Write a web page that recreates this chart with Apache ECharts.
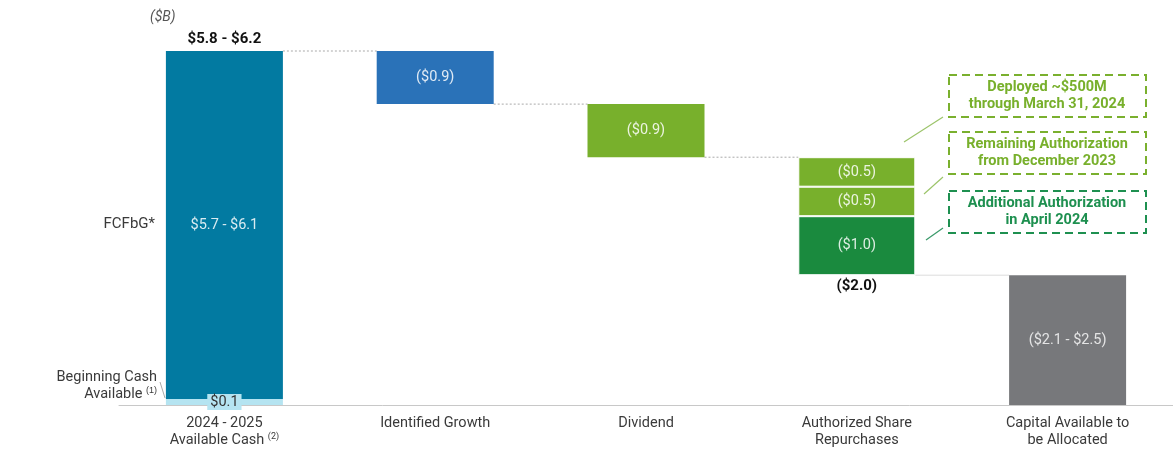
<!DOCTYPE html>
<html>
<head>
<meta charset="utf-8">
<script src="https://cdn.jsdelivr.net/npm/echarts@6/dist/echarts.min.js"></script>
<style>
  html, body { margin: 0; padding: 0; background: #fff; }
  #chart { width: 1173px; height: 454px; }
</style>
</head>
<body>
<div id="chart"></div>
<script>
// waterfall data ($B)
var categories = ['2024 - 2025\nAvailable Cash', 'Identified Growth', 'Dividend', 'Authorized Share\nRepurchases', 'Capital Available to\nbe Allocated'];
var baseValues = [0, 5.1, 4.2, 2.2, 0];
var beginningCash = [0.1, '-', '-', '-', '-'];
var fcfbg = [5.9, '-', '-', '-', '-'];
var growth = ['-', 0.9, '-', '-', '-'];
var dividend = ['-', '-', 0.9, '-', '-'];
var buybackAdditional = ['-', '-', '-', 1.0, '-'];
var buybackRemaining = ['-', '-', '-', 0.5, '-'];
var buybackDeployed = ['-', '-', '-', 0.5, '-'];
var capital = ['-', '-', '-', '-', 2.2];
var topMarker = [0, '-', '-', '-', '-'];
var connectorLevels = [6.0, 5.1, 4.2, 2.2];

var labelTexts = {
    total: '$5.8 - $6.2',
    cash: '$0.1',
    fcfbg: '$5.7 - $6.1',
    growth: '($0.9)',
    dividend: '($0.9)',
    additional: '($1.0)',
    remaining: '($0.5)',
    deployed: '($0.5)',
    buybackTotal: '($2.0)',
    capital: '($2.1 - $2.5)'
};

var BAR_W = 117;
var FONT = 'Roboto, "Liberation Sans", sans-serif';

var innerLabel = function(text, color){
    return {
        show: true,
        position: 'inside',
        formatter: text,
        color: color || 'rgba(255,255,255,0.85)',
        fontSize: 14.5,
        fontFamily: FONT
    };
};

var chart = echarts.init(document.getElementById('chart'));

var option = {
    backgroundColor: '#ffffff',
    animation: false,
    grid: { left: 119, width: 1056, top: 51, bottom: 49 },
    xAxis: {
        type: 'category',
        data: categories,
        axisTick: { show: false },
        axisLine: { lineStyle: { color: '#c8c8c8', width: 1 } },
        axisLabel: {
            margin: 10,
            interval: 0,
            color: '#3a3a3a',
            fontSize: 14.5,
            lineHeight: 17,
            fontFamily: FONT,
            formatter: function(v, i){
                if (i === 0) return '2024 - 2025\nAvailable Cash {sup|(2)}';
                return v;
            },
            rich: {
                sup: { fontSize: 9, color: '#3a3a3a', verticalAlign: 'top', padding: [0, 0, 6, 0], fontFamily: FONT }
            }
        }
    },
    yAxis: {
        type: 'value',
        min: 0,
        max: 6.0,
        show: false
    },
    series: [
        {
            name: 'base', type: 'bar', stack: 'w', barWidth: BAR_W,
            itemStyle: { color: 'transparent' },
            data: baseValues.map(function(v, i){
                if (i === 3) {
                    return { value: v, label: { show: true, position: 'insideTop', distance: 4, formatter: labelTexts.buybackTotal,
                        color: '#111', fontWeight: 'bold', fontSize: 15, fontFamily: FONT } };
                }
                return v;
            })
        },
        {
            name: 'Beginning Cash', type: 'bar', stack: 'w', barWidth: BAR_W,
            itemStyle: { color: '#b5e4f1' },
            label: { show: true, position: 'inside', formatter: labelTexts.cash, color: '#333', fontSize: 14.5,
                fontFamily: FONT, backgroundColor: '#b5e4f1', padding: [1, 3, 0, 3] },
            data: beginningCash
        },
        {
            name: 'FCFbG', type: 'bar', stack: 'w', barWidth: BAR_W,
            itemStyle: { color: '#027aa1' },
            label: innerLabel(labelTexts.fcfbg),
            data: fcfbg
        },
        {
            name: 'Identified Growth', type: 'bar', stack: 'w', barWidth: BAR_W,
            itemStyle: { color: '#2a72b8' },
            label: innerLabel(labelTexts.growth),
            data: growth
        },
        {
            name: 'Dividend', type: 'bar', stack: 'w', barWidth: BAR_W,
            itemStyle: { color: '#78b02c' },
            label: innerLabel(labelTexts.dividend),
            data: dividend
        },
        {
            name: 'Additional', type: 'bar', stack: 'w', barWidth: BAR_W,
            itemStyle: { color: '#1a8a3e', borderColor: '#fff', borderWidth: 1 },
            label: innerLabel(labelTexts.additional),
            data: buybackAdditional
        },
        {
            name: 'Remaining', type: 'bar', stack: 'w', barWidth: BAR_W,
            itemStyle: { color: '#78b02c', borderColor: '#fff', borderWidth: 1 },
            label: innerLabel(labelTexts.remaining),
            data: buybackRemaining
        },
        {
            name: 'Deployed', type: 'bar', stack: 'w', barWidth: BAR_W,
            itemStyle: { color: '#78b02c', borderColor: '#fff', borderWidth: 1 },
            label: innerLabel(labelTexts.deployed),
            data: buybackDeployed
        },
        {
            name: 'Capital', type: 'bar', stack: 'w', barWidth: BAR_W,
            itemStyle: { color: '#77787b' },
            label: innerLabel(labelTexts.capital, 'rgba(255,255,255,0.8)'),
            data: capital
        },
        {
            name: 'total', type: 'bar', stack: 'w', barWidth: BAR_W,
            itemStyle: { color: 'transparent' },
            label: { show: true, position: 'top', distance: 4, formatter: labelTexts.total, color: '#111',
                fontWeight: 'bold', fontSize: 15, fontFamily: FONT },
            data: topMarker
        },
        {
            name: 'connectors', type: 'custom', z: 1, silent: true,
            data: connectorLevels.map(function(v, i){ return [i, v]; }),
            renderItem: function(params, api){
                var i = api.value(0);
                var p = api.coord([i, api.value(1)]);
                var q = api.coord([i + 1, api.value(1)]);
                var last = i === connectorLevels.length - 1;
                return {
                    type: 'line',
                    shape: { x1: p[0] + BAR_W / 2, y1: p[1], x2: q[0] - BAR_W / 2, y2: q[1] },
                    style: { stroke: last ? '#dcdcdc' : '#aaaaaa', lineWidth: 1, lineDash: last ? null : [2, 2] }
                };
            }
        }
    ],
    graphic: [
        { type: 'text', x: 150, y: 17, style: { text: '($B)', fill: '#555', font: 'italic 14px ' + FONT, verticalAlign: 'middle' } },
        { type: 'text', x: 155, y: 224, style: { text: 'FCFbG*', fill: '#3a3a3a', font: '15px ' + FONT, align: 'right', verticalAlign: 'middle' } },
        { type: 'text', x: 157, y: 377, style: { text: 'Beginning Cash', fill: '#3a3a3a', font: '14.5px ' + FONT, align: 'right', verticalAlign: 'middle' } },
        { type: 'text', x: 157, y: 394, style: {
            text: 'Available {s|(1)}', fill: '#3a3a3a', font: '14.5px ' + FONT, align: 'right', verticalAlign: 'middle',
            rich: { s: { fontSize: 9, fill: '#3a3a3a', padding: [0, 0, 6, 0] } } } },
        { type: 'line', shape: { x1: 160, y1: 382, x2: 165, y2: 398 }, style: { stroke: '#aaa', lineWidth: 1 } },

        // callout boxes
        { type: 'rect', shape: { x: 949, y: 75, width: 197, height: 42 }, style: { fill: '#fff', stroke: '#7ab02e', lineWidth: 2, lineDash: [8, 5] } },
        { type: 'text', x: 1047, y: 96, style: { text: 'Deployed ~$500M\nthrough March 31, 2024', fill: '#78b02c', font: 'bold 14.5px ' + FONT, align: 'center', verticalAlign: 'middle', lineHeight: 17 } },
        { type: 'rect', shape: { x: 949, y: 132, width: 197, height: 42 }, style: { fill: '#fff', stroke: '#7ab02e', lineWidth: 2, lineDash: [8, 5] } },
        { type: 'text', x: 1047, y: 153, style: { text: 'Remaining Authorization\nfrom December 2023', fill: '#78b02c', font: 'bold 14.5px ' + FONT, align: 'center', verticalAlign: 'middle', lineHeight: 17 } },
        { type: 'rect', shape: { x: 949, y: 191, width: 197, height: 42 }, style: { fill: '#fff', stroke: '#1e9050', lineWidth: 2, lineDash: [8, 5] } },
        { type: 'text', x: 1047, y: 212, style: { text: 'Additional Authorization\nin April 2024', fill: '#1e9050', font: 'bold 14.5px ' + FONT, align: 'center', verticalAlign: 'middle', lineHeight: 17 } },
        { type: 'line', shape: { x1: 904, y1: 142, x2: 943, y2: 117 }, style: { stroke: '#9cc46a', lineWidth: 1.2 } },
        { type: 'line', shape: { x1: 924, y1: 194, x2: 943, y2: 177 }, style: { stroke: '#9cc46a', lineWidth: 1.2 } },
        { type: 'line', shape: { x1: 926, y1: 240, x2: 943, y2: 228 }, style: { stroke: '#3a9a6a', lineWidth: 1.2 } }
    ]
};

chart.setOption(option);
</script>
</body>
</html>
